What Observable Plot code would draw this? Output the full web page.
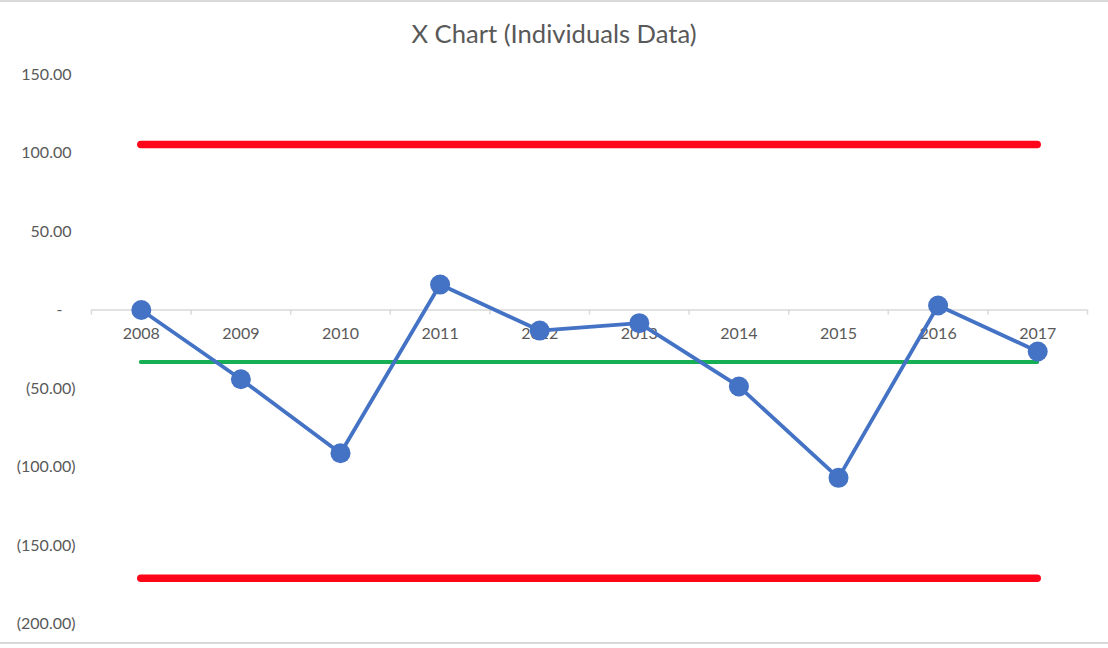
<!DOCTYPE html>
<html>
<head>
<meta charset="utf-8">
<script src="https://cdn.jsdelivr.net/npm/d3@7"></script>
<script src="https://cdn.jsdelivr.net/npm/@observablehq/plot@0.6"></script>
<style>
  html, body { margin: 0; padding: 0; background: #fff; }
  #wrap { width: 1108px; border-top: 2px solid #d9d9d9; border-bottom: 2px solid #d9d9d9; font-family: Lato, "Open Sans", sans-serif; }
  #title { height: 58px; line-height: 62px; text-align: center; font-size: 25.6px; color: #595959; }
  #chart svg { display: block; }
</style>
</head>
<body>
<div id="wrap">
  <div id="title">X Chart (Individuals Data)</div>
  <div id="chart"></div>
</div>
<script>
const years = [2008, 2009, 2010, 2011, 2012, 2013, 2014, 2015, 2016, 2017];
const values = [0.0, -44.1, -91.2, 16.2, -13.1, -8.4, -48.7, -106.9, 2.9, -26.4];
const mean = -33.2;
const ucl = 105.4;
const lcl = -170.8;
const yTicksPos = [150, 100, 50];
const yTicksNeg = [-50, -100, -150, -200];
const yTickZero = [0];

const data = years.map((y, i) => ({year: y, value: values[i]}));
const boundaries = d3.range(years.length + 1).map(i => years[0] - 0.5 + i);
const limits = [
  {name: "UCL", v: ucl},
  {name: "LCL", v: lcl}
];

const textColor = "#595959";
const fmtNeg = v => "(" + Math.abs(v).toFixed(2) + ")";
const fmtPos = v => v.toFixed(2);

const chart = Plot.plot({
  width: 1108,
  height: 582,
  marginTop: 14,
  marginBottom: 18.5,
  marginLeft: 91,
  marginRight: 21,
  style: {fontFamily: "Lato, 'Open Sans', sans-serif", fontSize: "16px", color: textColor, background: "#fff"},
  x: {domain: [years[0] - 0.5, years[years.length - 1] + 0.5], axis: null},
  y: {domain: [-200, 150], axis: null},
  marks: [
    Plot.axisY(yTicksPos, {tickSize: 0, tickPadding: 20, tickFormat: fmtPos, fill: textColor, fontSize: 16}),
    Plot.axisY(yTicksNeg, {tickSize: 0, tickPadding: 16, tickFormat: fmtNeg, fill: textColor, fontSize: 16}),
    Plot.axisY(yTickZero, {tickSize: 0, tickPadding: 29, tickFormat: () => "-", fill: textColor, fontSize: 16}),
    Plot.ruleY([0], {x1: boundaries[0], x2: boundaries[boundaries.length - 1], stroke: "#d9d9d9", strokeWidth: 1.5}),
    Plot.ruleX(boundaries, {x: d => d, y1: 0, y2: -3.2, stroke: "#d9d9d9", strokeWidth: 1.5}),
    Plot.text(years, {x: d => d, y: 0, dy: 23.5, text: d => String(d), fill: textColor, fontSize: 16}),
    Plot.ruleY(limits, {y: "v", x1: years[0], x2: years[years.length - 1], stroke: "#ff0519", strokeWidth: 7.5, strokeLinecap: "round"}),
    Plot.ruleY([mean], {x1: years[0], x2: years[years.length - 1], stroke: "#16af53", strokeWidth: 4, strokeLinecap: "round"}),
    Plot.line(data, {x: "year", y: "value", stroke: "#4472c4", strokeWidth: 3.8, strokeLinejoin: "round"}),
    Plot.dot(data, {x: "year", y: "value", r: 10, fill: "#4472c4", stroke: "none"})
  ]
});
document.getElementById("chart").appendChild(chart);
</script>
</body>
</html>
